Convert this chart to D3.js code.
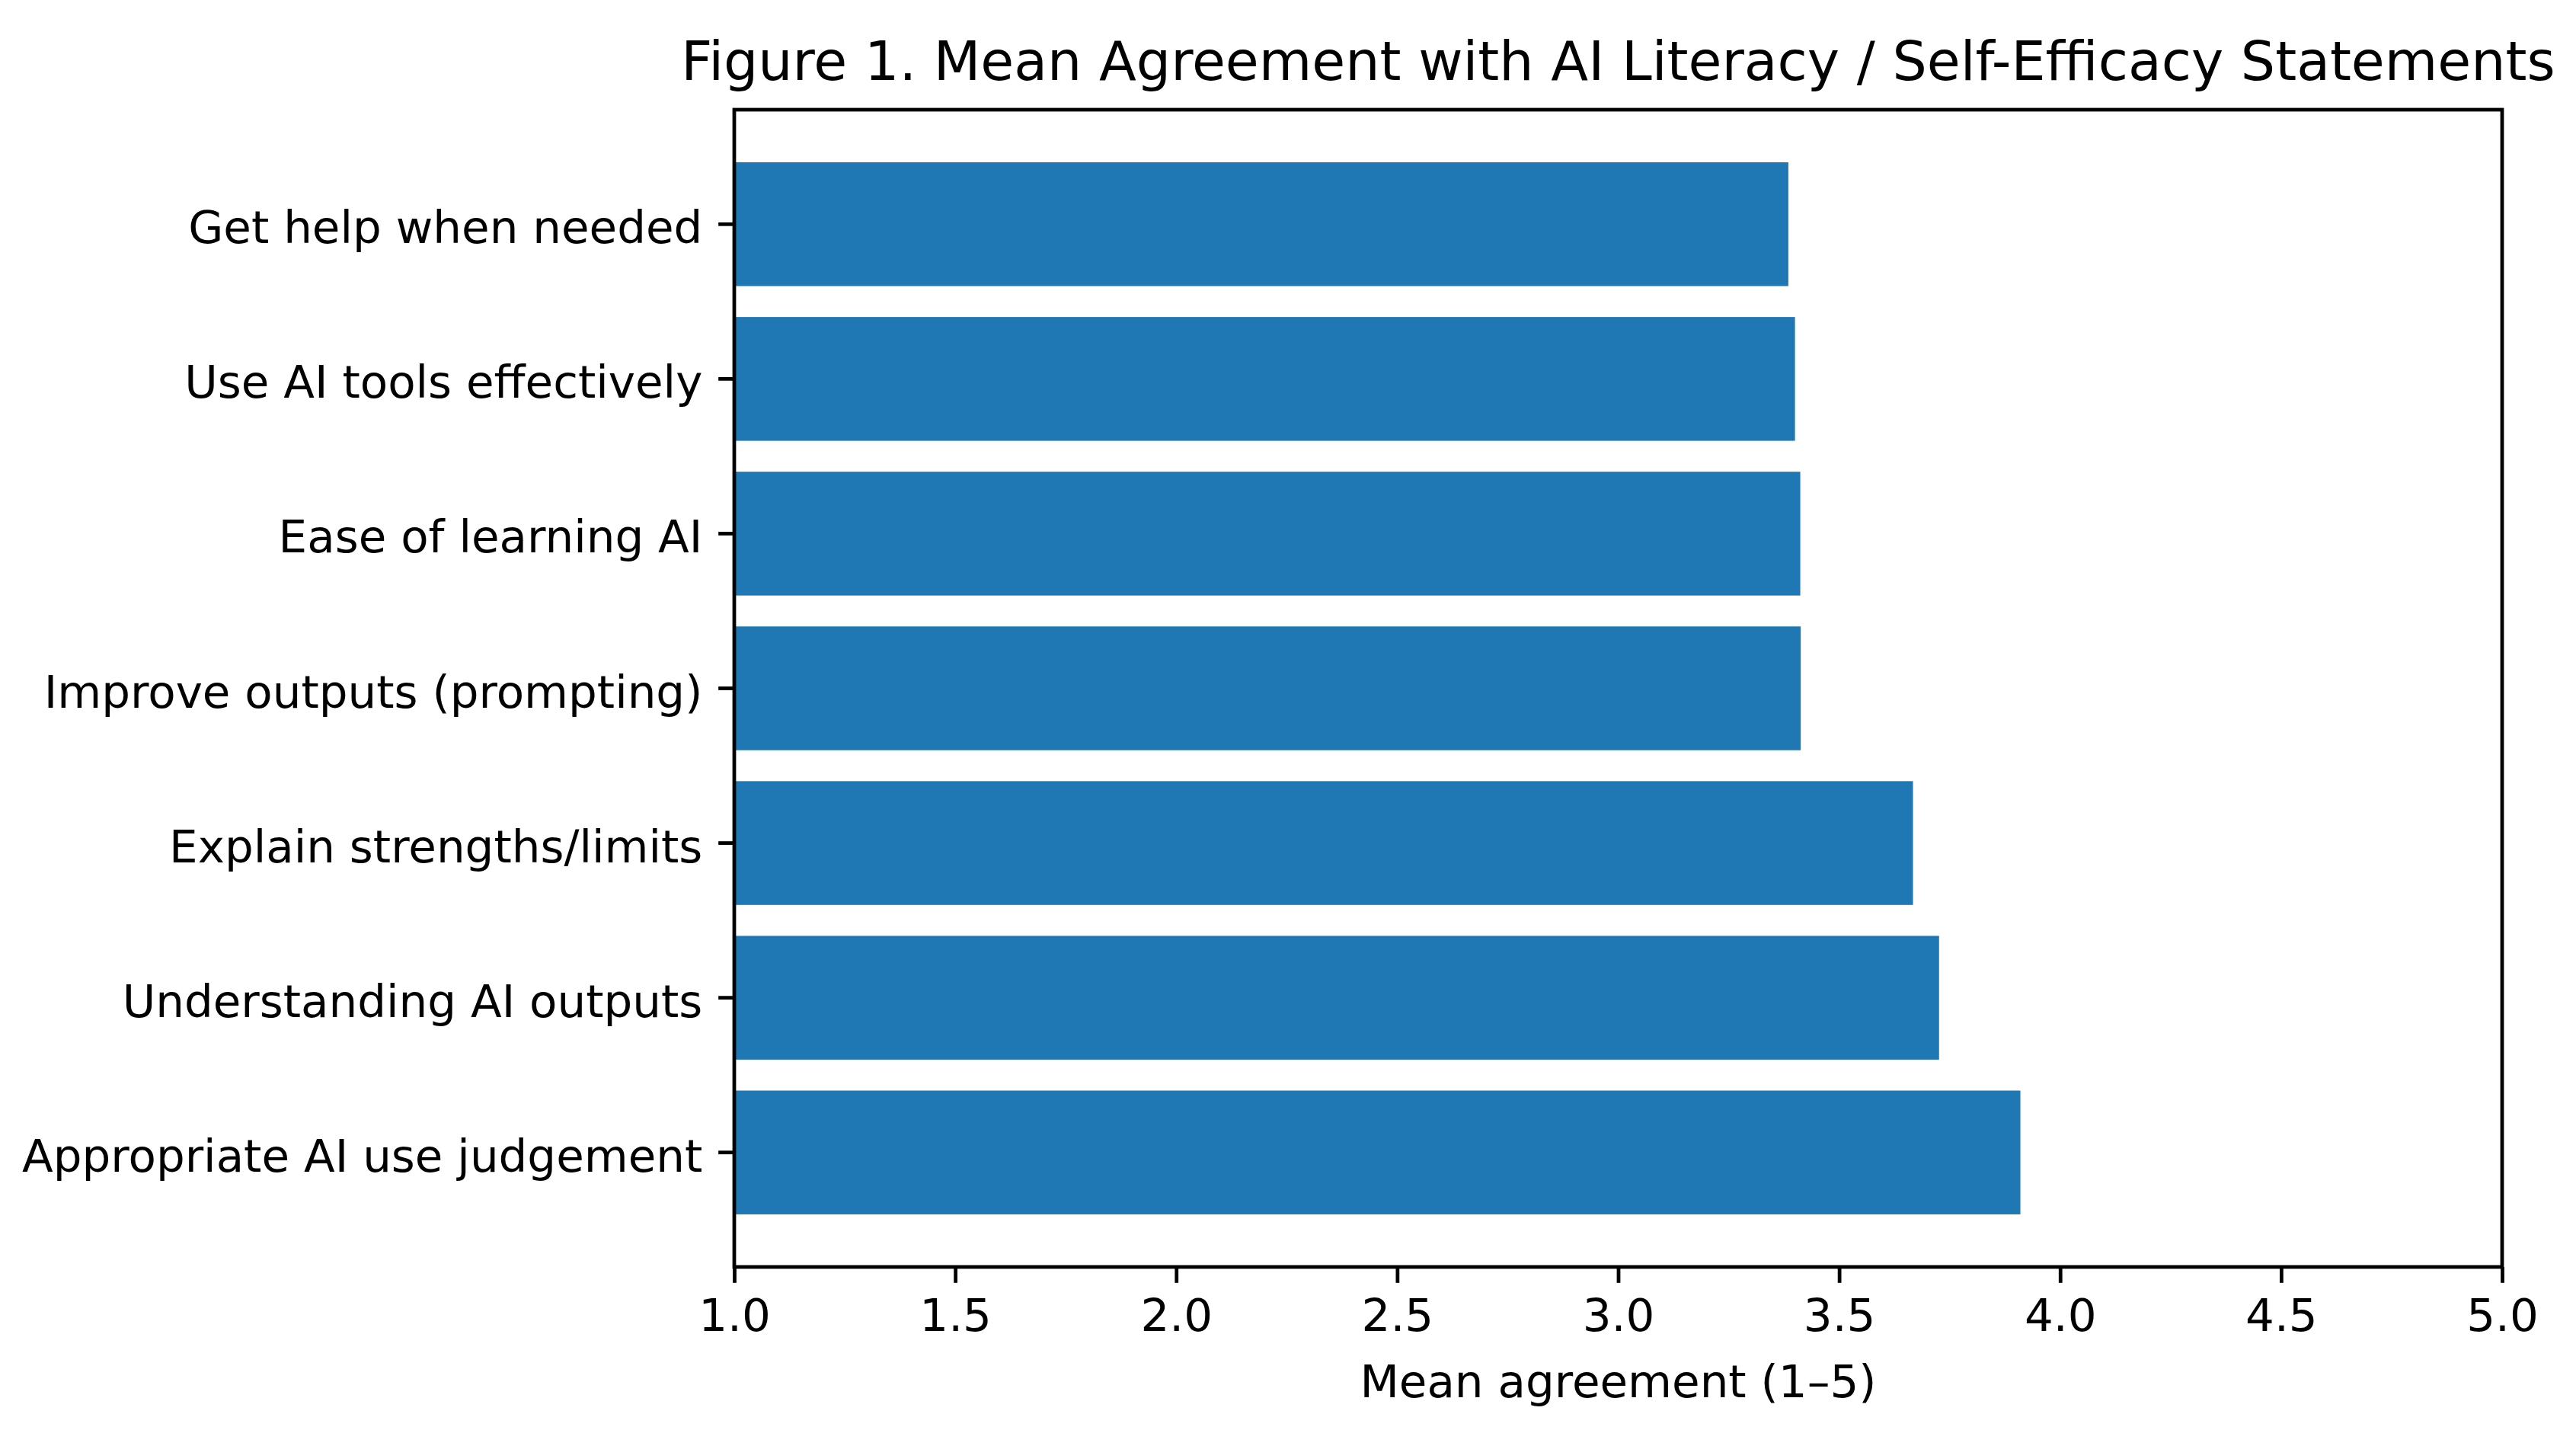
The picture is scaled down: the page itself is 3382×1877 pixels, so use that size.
<!DOCTYPE html>
<html>
<head>
<meta charset="utf-8">
<script src="https://cdn.jsdelivr.net/npm/d3@7"></script>
<style>
    body { margin: 0; background: #ffffff; }
    svg { display: block; }
</style>
</head>
<body>
<svg id="grafic"></svg>
<script>
// ------------------DATA------------------
// categories in matplotlib order (first one ends up at the bottom)
var categories = [
    "Appropriate AI use judgement",
    "Understanding AI outputs",
    "Explain strengths/limits",
    "Improve outputs (prompting)",
    "Ease of learning AI",
    "Use AI tools effectively",
    "Get help when needed"
];
// mean agreement
var means = [3.91, 3.726, 3.667, 3.413, 3.412, 3.40, 3.385];
// x axis ticks
var xTicks = [1.0, 1.5, 2.0, 2.5, 3.0, 3.5, 4.0, 4.5, 5.0];
var xDomain = [1, 5];

var titol = "Figure 1. Mean Agreement with AI Literacy / Self-Efficacy Statements";
var xLabel = "Mean agreement (1\u20135)";

// ------------------VARIABLES------------------
var width = 3382;
var height = 1877;
// plot area, in pixels
var marge = { left: 964, right: 3285, top: 144, bottom: 1663 };
// 1pt is about 5.95 px in the picture
var pt = 5.95;
var fontTick = 10 * pt;
var fontTitol = 12 * pt;
var liniaEix = 0.8 * pt;
var midaTick = 3.5 * pt;
var colorBarra = "#1f77b4";
var font = "'DejaVu Sans', sans-serif";

var svg = d3.select("#grafic")
    .attr("width", width)
    .attr("height", height);

svg.append("rect")
    .attr("width", width)
    .attr("height", height)
    .style("fill", "#ffffff");

var x = d3.scaleLinear()
    .domain(xDomain)
    .range([marge.left, marge.right]);

// band of 1 unit, bar of 0.8 and a 5% margin like matplotlib
var y = d3.scaleBand()
    .domain(categories)
    .range([marge.bottom, marge.top])
    .paddingInner(0.2)
    .paddingOuter(0.34);

// ------------------FUNCIONS------------------
function dibuixarBarres() {
    svg.append("g")
        .selectAll("rect")
        .data(categories)
        .join("rect")
        .attr("x", x(xDomain[0]))
        .attr("y", d => y(d))
        .attr("width", (d, i) => x(means[i]) - x(xDomain[0]))
        .attr("height", y.bandwidth())
        .style("fill", colorBarra);
}

function estilEix(g) {
    g.select(".domain").remove();
    g.selectAll(".tick line")
        .attr("stroke", "#000")
        .attr("stroke-width", liniaEix);
    g.selectAll(".tick text")
        .attr("fill", "#000")
        .style("font-family", font)
        .style("font-size", fontTick + "px");
}

function dibuixarEixos() {
    let eixX = svg.append("g")
        .attr("transform", `translate(0,${marge.bottom})`)
        .call(d3.axisBottom(x)
            .tickValues(xTicks)
            .tickFormat(d3.format(".1f"))
            .tickSize(midaTick)
            .tickPadding(midaTick));
    estilEix(eixX);

    let eixY = svg.append("g")
        .attr("transform", `translate(${marge.left},0)`)
        .call(d3.axisLeft(y)
            .tickSize(midaTick)
            .tickPadding(midaTick));
    estilEix(eixY);
    eixY.selectAll(".tick text").attr("dy", "0.42em");

    // the four spines
    svg.append("rect")
        .attr("x", marge.left)
        .attr("y", marge.top)
        .attr("width", marge.right - marge.left)
        .attr("height", marge.bottom - marge.top)
        .style("fill", "none")
        .style("stroke", "#000")
        .style("stroke-width", liniaEix)
        .style("stroke-linecap", "square");
}

function dibuixarTextos() {
    svg.append("text")
        .attr("x", (marge.left + marge.right) / 2)
        .attr("y", marge.top - 6 * pt - 3)
        .attr("text-anchor", "middle")
        .style("font-family", font)
        .style("font-size", fontTitol + "px")
        .style("fill", "#000")
        .text(titol);

    svg.append("text")
        .attr("x", (marge.left + marge.right) / 2)
        .attr("y", 1834)
        .attr("text-anchor", "middle")
        .style("font-family", font)
        .style("font-size", fontTick + "px")
        .style("fill", "#000")
        .text(xLabel);
}

// ------------------MAIN------------------
dibuixarBarres();
dibuixarEixos();
dibuixarTextos();
</script>
</body>
</html>
